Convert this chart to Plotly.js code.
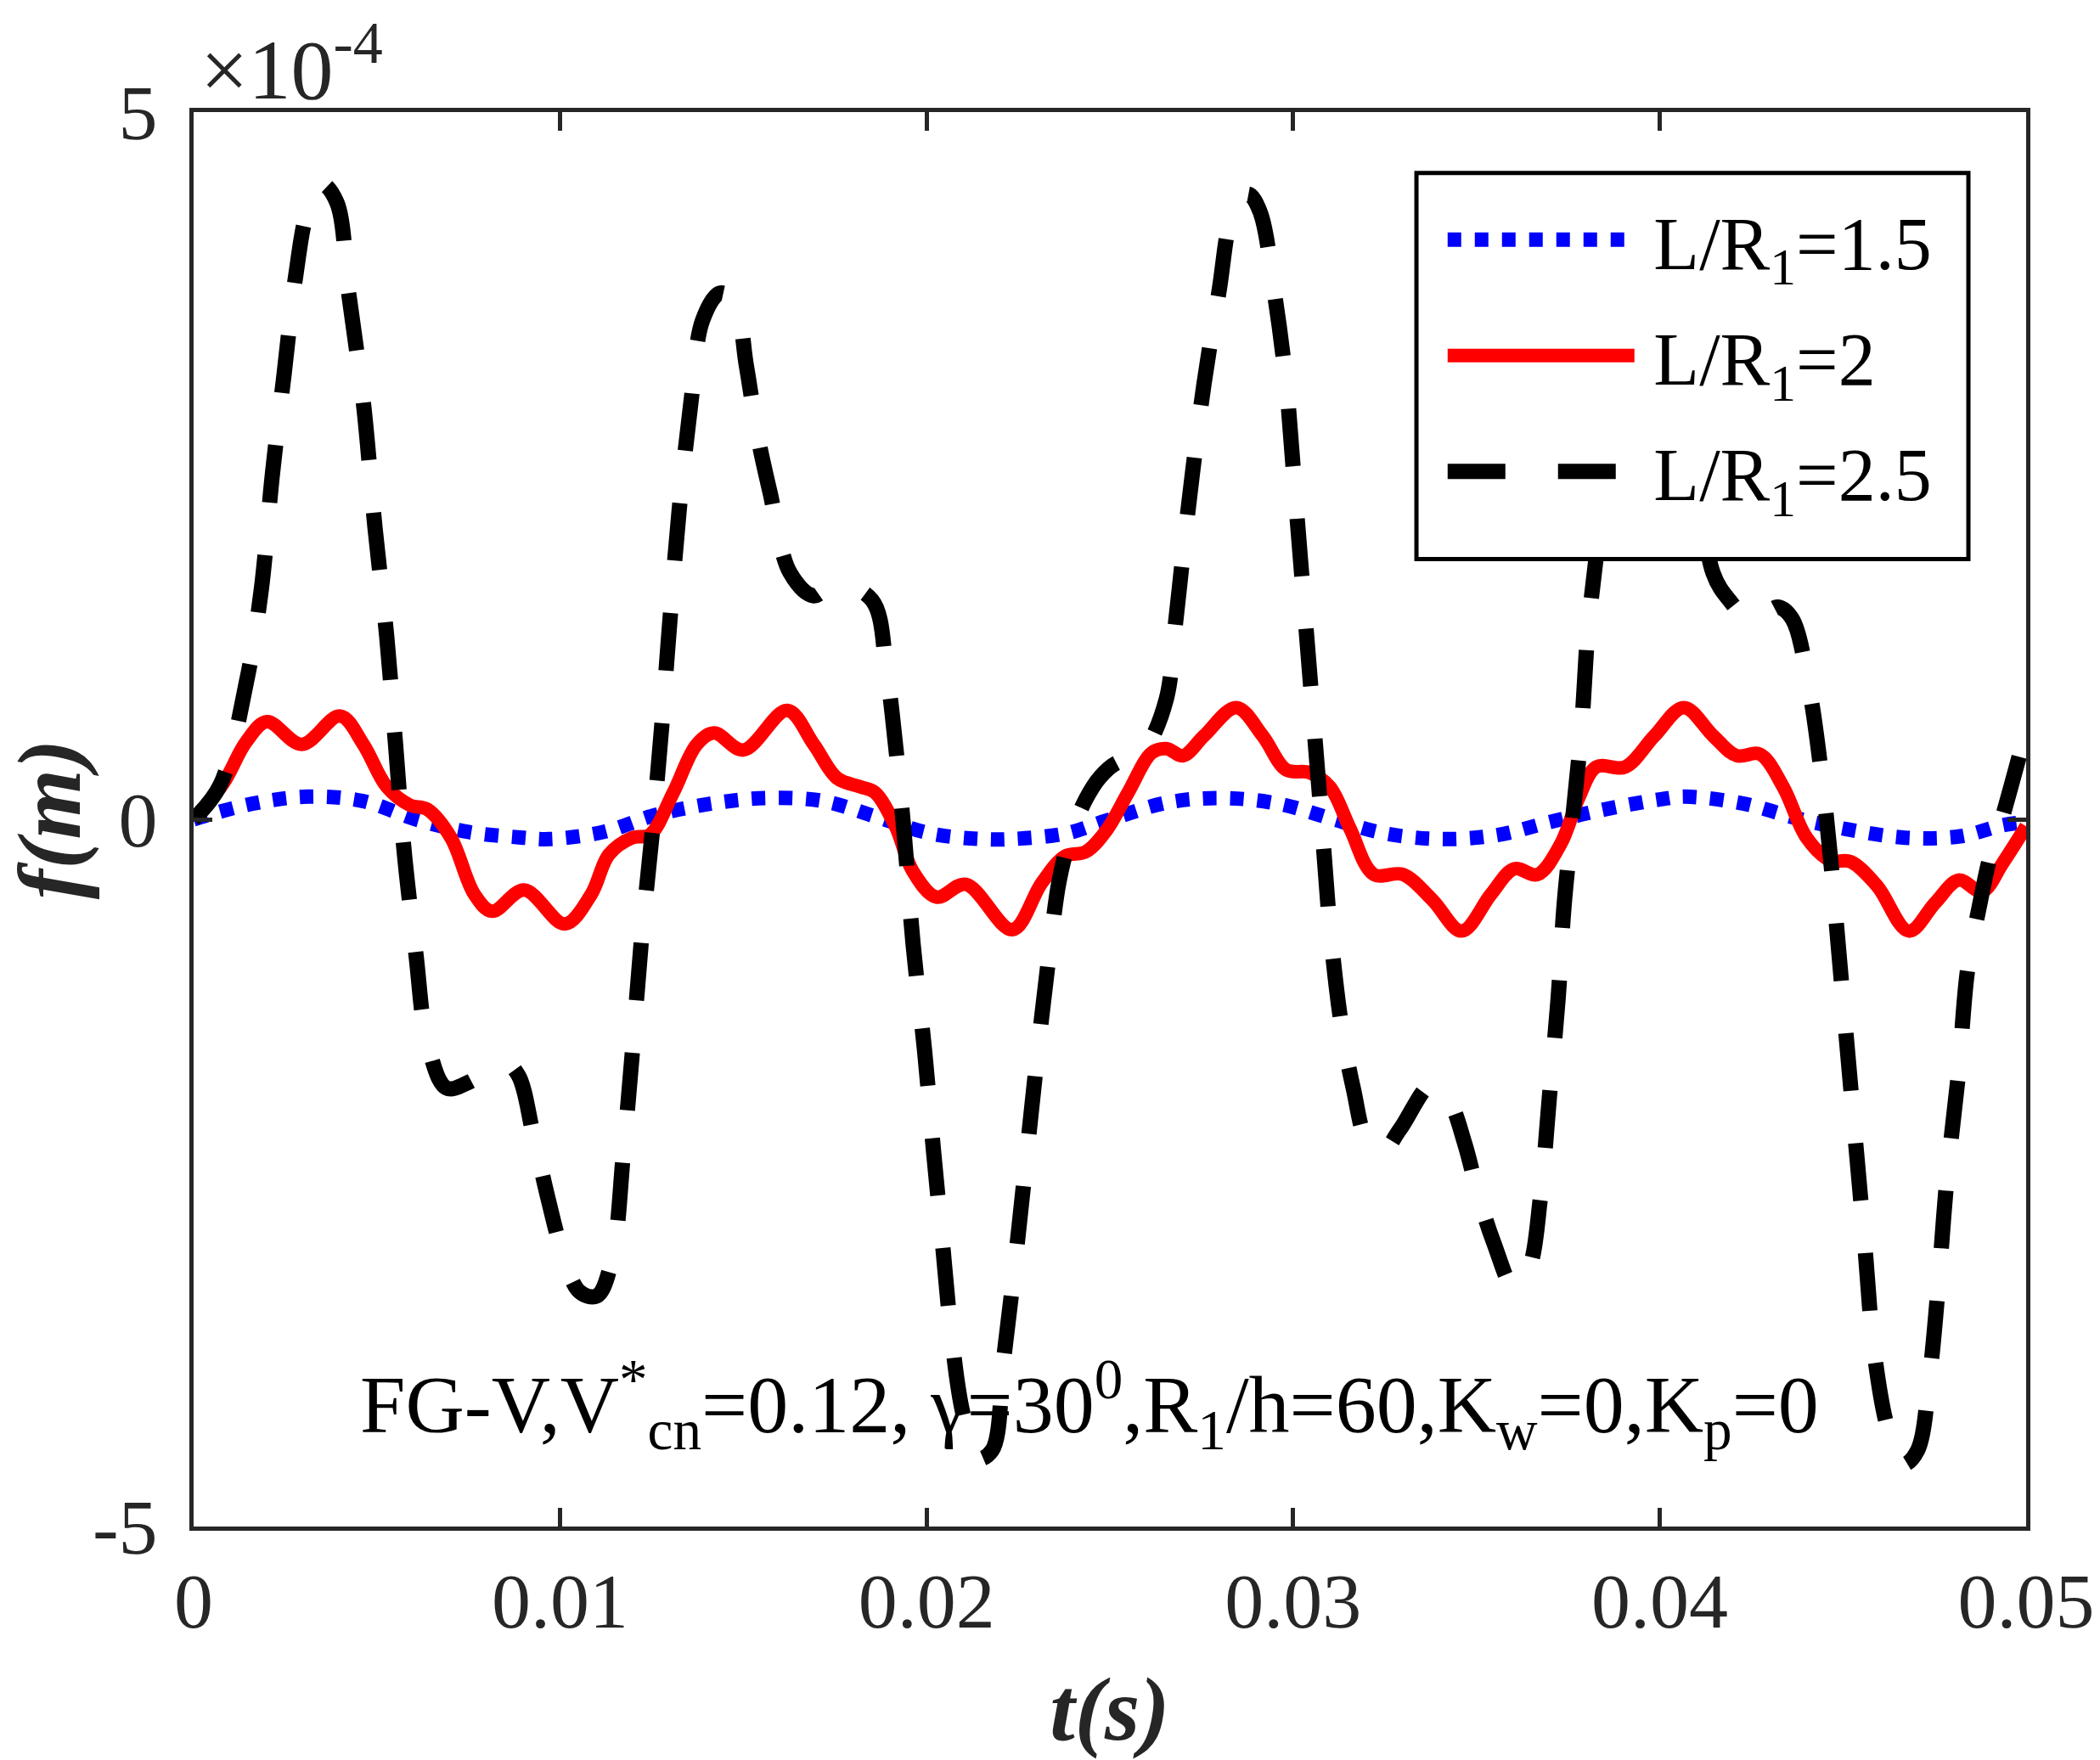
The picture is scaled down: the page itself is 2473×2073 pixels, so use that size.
<!DOCTYPE html>
<html>
<head>
<meta charset="utf-8">
<script src="https://cdn.plot.ly/plotly-3.0.1.min.js"></script>
<style>
  body { margin: 0; background: #fff; }
  #plot { width: 2473px; height: 2073px; }
</style>
</head>
<body>
<div id="plot"></div>
<script>
// f(m) values are in units of 1e-4 (axis shows x10^-4)

var t_15 = [0, 0.0016, 0.0031, 0.0046, 0.00606, 0.0075, 0.009, 0.0097, 0.01117, 0.0126,
  0.0141, 0.0156, 0.01716, 0.0186, 0.0201, 0.0215, 0.0223, 0.0238, 0.0249, 0.0266,
  0.0281, 0.0296, 0.0311, 0.0325, 0.0341, 0.0356, 0.037, 0.0385, 0.04, 0.0407,
  0.0423, 0.0437, 0.0451, 0.0467, 0.0482, 0.0494, 0.05];
var f_15 = [0, 0.11, 0.16, 0.13, 0.0, -0.09, -0.13, -0.14, -0.09, 0.03,
  0.11, 0.15, 0.13, 0.02, -0.10, -0.14, -0.14, -0.10, -0.01, 0.12,
  0.15, 0.11, 0.0, -0.10, -0.14, -0.11, -0.02, 0.07, 0.14, 0.16,
  0.11, 0.01, -0.07, -0.13, -0.12, -0.04, -0.02];

var t_2 = [0, 0.0008, 0.00144, 0.002, 0.00295, 0.004, 0.00463, 0.00527, 0.0059, 0.00638,
  0.00702, 0.00766, 0.00814, 0.00902, 0.01013, 0.01085, 0.01133, 0.01197, 0.01245, 0.01309,
  0.01373, 0.0142, 0.015, 0.0162, 0.01692, 0.01756, 0.01819, 0.01859, 0.01915, 0.01963,
  0.02027, 0.02107, 0.02234, 0.02314, 0.02378, 0.02434, 0.0249, 0.0255, 0.02614, 0.02654,
  0.027, 0.02757, 0.02845, 0.02917, 0.02981, 0.03045, 0.031, 0.03156, 0.0322, 0.033,
  0.0338, 0.0346, 0.0354, 0.03603, 0.03667, 0.03731, 0.03779, 0.03827, 0.03906, 0.03986,
  0.04066, 0.04146, 0.0421, 0.04274, 0.04337, 0.04401, 0.04465, 0.04521, 0.04593, 0.0468,
  0.04752, 0.04816, 0.0488, 0.04936, 0.05];
var f_2 = [0, 0.25, 0.55, 0.69, 0.53, 0.73, 0.53, 0.23, 0.10, 0.07,
  -0.13, -0.53, -0.65, -0.50, -0.74, -0.53, -0.25, -0.13, -0.11, 0.19,
  0.53, 0.61, 0.49, 0.77, 0.53, 0.29, 0.23, 0.19, -0.05, -0.37,
  -0.55, -0.46, -0.78, -0.45, -0.26, -0.23, -0.08, 0.19, 0.47, 0.50,
  0.45, 0.59, 0.79, 0.59, 0.35, 0.33, 0.23, -0.07, -0.39, -0.39,
  -0.57, -0.79, -0.53, -0.35, -0.39, -0.17, 0.15, 0.37, 0.37, 0.59,
  0.79, 0.59, 0.45, 0.46, 0.23, -0.13, -0.29, -0.30, -0.47, -0.79,
  -0.59, -0.43, -0.51, -0.31, -0.05];

var t_25 = [0, 0.00072, 0.00144, 0.00184, 0.00215, 0.00247, 0.00279, 0.00311, 0.00351, 0.00391,
  0.00423, 0.00463, 0.00495, 0.00527, 0.00551, 0.00575, 0.00606, 0.00638, 0.0069, 0.0075,
  0.008, 0.00846, 0.00886, 0.00926, 0.00966, 0.01005, 0.01053, 0.011, 0.01141, 0.01173,
  0.01197, 0.01221, 0.01253, 0.01277, 0.013, 0.01325, 0.01357, 0.01389, 0.01436, 0.01476,
  0.01508, 0.0154, 0.01572, 0.01628, 0.01692, 0.01748, 0.01851, 0.01891, 0.01915, 0.01939,
  0.01963, 0.01995, 0.02019, 0.02043, 0.02067, 0.02099, 0.02139, 0.02179, 0.0221, 0.02242,
  0.02274, 0.02306, 0.02338, 0.02362, 0.02394, 0.02434, 0.02474, 0.0252, 0.0256, 0.02598,
  0.02654, 0.02678, 0.02702, 0.02725, 0.02757, 0.02797, 0.02837, 0.02877, 0.02909, 0.02949,
  0.02981, 0.03005, 0.03029, 0.03053, 0.03077, 0.031, 0.03132, 0.03164, 0.03204, 0.03244,
  0.03292, 0.0338, 0.03428, 0.03468, 0.03507, 0.03547, 0.03603, 0.03643, 0.03675, 0.03699,
  0.03723, 0.03739, 0.03763, 0.03787, 0.03803, 0.03819, 0.0386, 0.0392, 0.0398, 0.0404,
  0.041, 0.04146, 0.0419, 0.04258, 0.04321, 0.04361, 0.04409, 0.04441, 0.04465, 0.04489,
  0.04513, 0.04537, 0.04561, 0.04585, 0.04625, 0.04665, 0.04704, 0.04736, 0.0476, 0.04784,
  0.04816, 0.0484, 0.04872, 0.04904, 0.04928, 0.0499];
var f_25 = [0, 0.24, 0.97, 1.61, 2.44, 3.15, 3.85, 4.30, 4.49, 4.36,
  3.72, 2.95, 2.06, 1.29, 0.53, -0.24, -0.94, -1.58, -1.90, -1.86,
  -1.78, -1.71, -1.81, -2.22, -2.67, -3.05, -3.34, -3.37, -3.12, -2.35,
  -1.65, -0.88, -0.05, 0.65, 1.42, 2.19, 2.95, 3.53, 3.72, 3.66,
  3.21, 2.70, 2.32, 1.74, 1.58, 1.67, 1.55, 1.04, 0.53, -0.11,
  -0.88, -1.65, -2.35, -2.99, -3.63, -4.20, -4.52, -4.46, -3.82, -3.12,
  -2.35, -1.58, -0.88, -0.43, -0.11, 0.14, 0.30, 0.40, 0.42, 0.50,
  0.85, 1.36, 1.93, 2.44, 3.08, 3.72, 4.30, 4.42, 4.30, 3.72,
  3.08, 2.32, 1.55, 0.78, 0.01, -0.75, -1.46, -1.90, -2.29, -2.35,
  -2.19, -1.87, -2.00, -2.29, -2.67, -2.99, -3.31, -3.18, -2.67, -1.97,
  -1.27, -0.62, 0.01, 0.65, 1.29, 1.68, 2.50, 3.30, 3.60, 3.30,
  2.50, 1.74, 1.55, 1.39, 1.50, 1.42, 0.91, 0.33, -0.24, -0.94,
  -1.65, -2.35, -3.05, -3.76, -4.33, -4.56, -4.46, -3.95, -3.31, -2.54,
  -1.78, -1.07, -0.62, -0.24, -0.05, 0.53];

// thin space in front so the text sits a little off the sample line
var names = ['\u2009L/R<sub>1</sub>=1.5', '\u2009L/R<sub>1</sub>=2', '\u2009L/R<sub>1</sub>=2.5'];
var xTicks = [0, 0.01, 0.02, 0.03, 0.04, 0.05];
var xTickText = ['0', '0.01', '0.02', '0.03', '0.04', '0.05'];
var yTicks = [-5, 0, 5];
var yTickText = ['-5', '0', '5'];

var serif = 'Liberation Serif, Times New Roman, serif';
var axisCol = '#262626';
var lineWidths = [17, 16, 18];

var data = [
  {x: t_15, y: f_15, type: 'scatter', mode: 'lines', name: names[0], legendgroup: 'a',
   line: {color: '#0000ff', width: lineWidths[0], dash: '16px,16px', shape: 'spline'}},
  {x: t_2, y: f_2, type: 'scatter', mode: 'lines', name: names[1], legendgroup: 'b',
   line: {color: '#ff0000', width: lineWidths[1], shape: 'spline'}},
  {x: t_25, y: f_25, type: 'scatter', mode: 'lines', name: names[2], legendgroup: 'c',
   line: {color: '#000000', width: lineWidths[2], dash: '68px,62px', shape: 'spline'}}
];

var layout = {
  width: 2473, height: 2073,
  margin: {l: 228, r: 87, t: 132, b: 275},
  paper_bgcolor: '#fff', plot_bgcolor: '#fff',
  font: {family: serif, size: 88, color: '#000'},
  showlegend: true,
  legend: {
    x: 0.682, y: 0.948, xanchor: 'left', yanchor: 'top',
    bgcolor: 'rgba(0,0,0,0)', borderwidth: 0,
    font: {family: serif, size: 88, color: '#000'},
    itemwidth: 220, traceorder: 'grouped', tracegroupgap: 19
  },
  // legend frame (white box that hides the curves behind it)
  shapes: [
    {type: 'rect', xref: 'paper', yref: 'paper', x0: 0.6673, x1: 0.9685, y0: 0.684, y1: 0.957,
     fillcolor: '#fff', line: {color: '#000', width: 5}, layer: 'above'}
  ],
  xaxis: {
    range: [0, 0.05], tickvals: xTicks, ticktext: xTickText,
    showgrid: false, zeroline: false, showline: true, mirror: 'ticks',
    linecolor: axisCol, linewidth: 5, ticks: 'inside', ticklen: 22, tickwidth: 5, tickcolor: axisCol,
    tickfont: {family: serif, size: 92, color: axisCol}, ticklabelstandoff: 4,
    title: {text: '<b><i>t(s)</i></b>', font: {family: serif, size: 106, color: axisCol}, standoff: 40}
  },
  yaxis: {
    range: [-5, 5], tickvals: yTicks, ticktext: yTickText,
    showgrid: false, zeroline: false, showline: true, mirror: 'ticks',
    linecolor: axisCol, linewidth: 5, ticks: 'inside', ticklen: 22, tickwidth: 5, tickcolor: axisCol,
    tickfont: {family: serif, size: 92, color: axisCol}, ticklabelstandoff: 19,
    title: {text: '<b><i>f(m)</i></b>', font: {family: serif, size: 106, color: axisCol}, standoff: 10}
  },
  annotations: [
    {xref: 'paper', yref: 'paper', x: 0.003, y: 1.0, xanchor: 'left', yanchor: 'bottom', yshift: -8,
     text: '×10<sup>-4</sup>', showarrow: false, font: {family: serif, size: 100, color: axisCol}},
    {xref: 'paper', yref: 'paper', x: 0.489, y: 0.086, xanchor: 'center', yanchor: 'middle',
     text: 'FG-V,V<sup>*</sup><sub>cn</sub>=0.12, γ=30<sup>0</sup>,R<sub>1</sub>/h=60,K<sub>w</sub>=0,K<sub>p</sub>=0',
     showarrow: false, font: {family: serif, size: 96, color: '#000'}}
  ]
};

Plotly.newPlot('plot', data, layout, {staticPlot: true}).then(function() {
  // plotly caps legend line width, put the real widths back
  var legLines = document.querySelectorAll('#plot .legend .traces');
  legLines.forEach(function(tr, i) {
    tr.querySelectorAll('path.js-line').forEach(function(p) {
      p.style.strokeWidth = lineWidths[i] + 'px';
    });
  });
});
</script>
</body>
</html>
